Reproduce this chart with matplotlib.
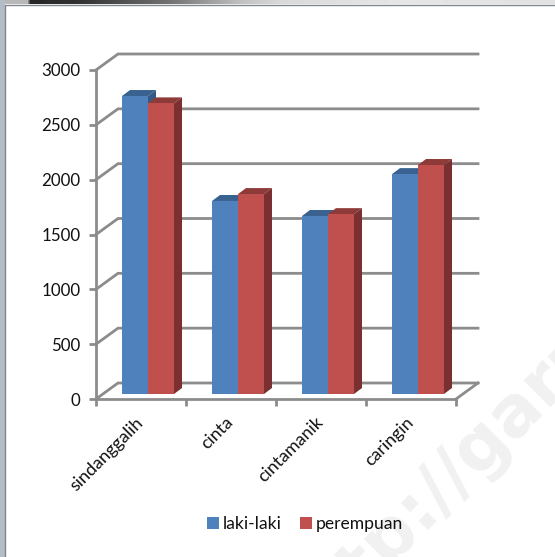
import numpy as np
import matplotlib
matplotlib.use('Agg')
import matplotlib.pyplot as plt
from matplotlib.patches import Polygon

plt.rcParams['font.family'] = ['Lato', 'DejaVu Sans']

categories = ['sindanggalih', 'cinta', 'cintamanik', 'caringin']
laki = [2717, 1760, 1623, 2005]
perempuan = [2650, 1823, 1640, 2088]
y_ticks = [0, 500, 1000, 1500, 2000, 2500, 3000]

W, H = 555, 557
grid_col = '#8c8c8c'
blue, blue_top = '#4f81bd', '#3a6291'
red, red_top, red_side = '#c0504d', '#8e3a38', '#7a3030'

fig = plt.figure(figsize=(W / 100, H / 100), dpi=100, facecolor='white')

# window edge from the screenshot
bg = fig.add_axes([0, 0, 1, 1], zorder=0)
bg.axis('off')
strip = np.interp(np.arange(W), [0, 27, 30, 80, 170, 240, 280, 400, 555],
                  [0.72, 0.72, 0.15, 0.2, 0.45, 0.75, 0.85, 0.9, 0.88])
bg.imshow(strip[None, :], extent=(0, W, 4, 0), cmap='gray', vmin=0, vmax=1, aspect='auto')
bg.fill_between([0, 5], 0, H, color='#b4bcc6', lw=0)
bg.plot([5, 5, W], [H, 4.5, 4.5], color='#7f858c', lw=1)
bg.set_xlim(0, W)
bg.set_ylim(H, 0)
bg.text(452, 472, 'http://garut', color='#f1f1f1', fontsize=50, fontweight='bold',
        rotation=45, ha='center', va='center', rotation_mode='anchor', family='DejaVu Sans')

# front plane of the fake 3d box
left, right, bottom, top = 96, 456, 399, 70
ax = fig.add_axes([left / W, 1 - bottom / H, (right - left) / W, (bottom - top) / H], zorder=1)
ax.patch.set_alpha(0)
ax.set_xlim(0, 4)
ax.set_ylim(0, 3000)
px_x = 4 / (right - left)
px_y = 3000 / (bottom - top)

# walls and floor
wall_dx, wall_dy = 22 * px_x, 16 * px_y
for t in y_ticks:
    ax.plot([0, wall_dx, 4 + wall_dx], [t, t + wall_dy, t + wall_dy], color=grid_col,
            lw=2, clip_on=False, solid_joinstyle='miter', zorder=1)
ax.plot([4, 4 + wall_dx], [0, wall_dy], color=grid_col, lw=2, clip_on=False, zorder=1)

# bars
bar_w = 26 * px_x
shift = 7 * px_x
base = 5 * px_y
depth_x, depth_y = 8 * px_x, 6 * px_y


def bar_3d(xc, val, face, top_col, side_col, z):
    ax.bar(xc, val, width=bar_w, bottom=base, color=face, lw=0, zorder=z + 0.2, clip_on=False)
    l, r, up = xc - bar_w / 2, xc + bar_w / 2, val + base
    ax.add_patch(Polygon([(l, up), (r, up), (r + depth_x, up + depth_y), (l + depth_x, up + depth_y)],
                         fc=top_col, ec='none', zorder=z, clip_on=False))
    ax.add_patch(Polygon([(r, base), (r + depth_x, base + depth_y), (r + depth_x, up + depth_y), (r, up)],
                         fc=side_col, ec='none', zorder=z, clip_on=False))


centers = np.arange(len(categories)) + 0.5
for i, c in enumerate(centers):
    bar_3d(c + shift - bar_w / 2, laki[i], blue, blue_top, '#355a85', 3)
    bar_3d(c + shift + bar_w / 2, perempuan[i], red, red_top, red_side, 4)

# axes
for s in ['top', 'right']:
    ax.spines[s].set_visible(False)
for s in ['left', 'bottom']:
    ax.spines[s].set_color(grid_col)
    ax.spines[s].set_linewidth(2)
ax.set_yticks(y_ticks)
ax.set_xticks(np.arange(5))
ax.set_xticklabels([])
ax.set_xticks(centers, minor=True)
ax.set_xticklabels(categories, minor=True, rotation=45, ha='right', va='center',
                   rotation_mode='anchor', fontsize=12.8, color='#111111')
ax.tick_params(axis='both', which='major', color=grid_col, width=2, length=5, labelsize=12.2,
               labelcolor='#111111', pad=6)
ax.tick_params(axis='x', which='minor', length=0, pad=15)

# legend
handles = [plt.Rectangle((0, 0), 1, 1, fc=blue), plt.Rectangle((0, 0), 1, 1, fc=red)]
fig.legend(handles, ['laki-laki', 'perempuan'], ncol=2, frameon=False, fontsize=12.6,
           loc='center', bbox_to_anchor=(305 / W, 1 - 524 / H), handlelength=0.68,
           handleheight=0.68, handletextpad=0.2, columnspacing=1.05, labelcolor='#111111')

fig.savefig('out.png', dpi=100)
